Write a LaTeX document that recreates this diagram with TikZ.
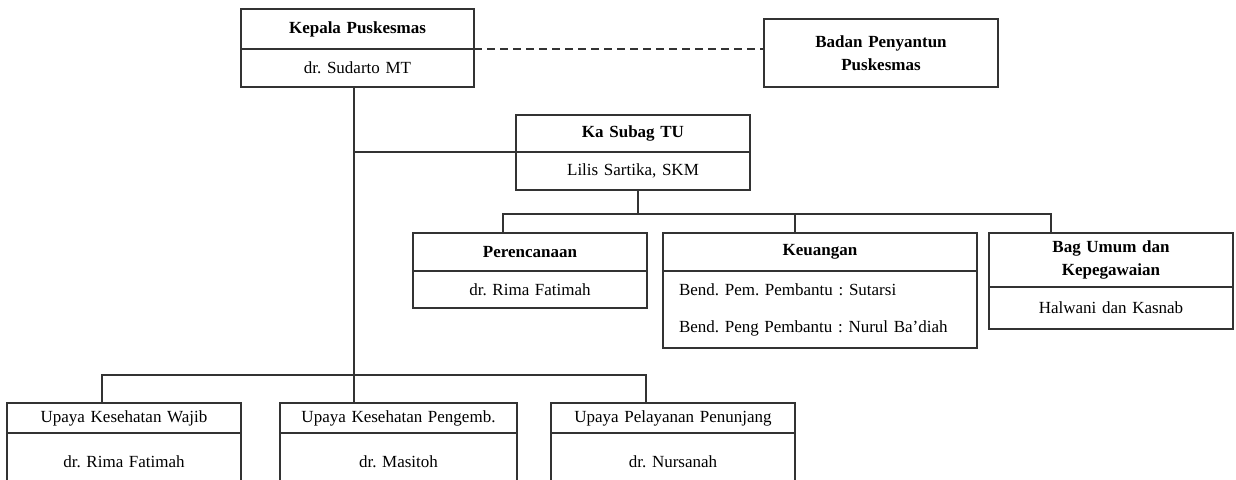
\documentclass[tikz,border=0pt]{standalone}
\usepackage{fontspec}
\setmainfont{Liberation Serif}
\usetikzlibrary{positioning,calc}
\newcommand{\orgfont}{\fontsize{17}{23}\selectfont}
\frenchspacing
\tikzset{
  unitbox/.style={draw=black!80,line width=1.5pt,inner sep=0pt,outer sep=0pt,
    align=center,font=\orgfont\bfseries,anchor=north west},
  namebox/.style={draw=black!80,line width=1.5pt,inner sep=0pt,outer sep=0pt,
    align=center,font=\orgfont},
  orgline/.style={draw=black!80,line width=1.6pt},
  linkline/.style={draw=black!80,line width=1.2pt,dash pattern=on 8pt off 5pt}
}

\begin{document}
\begin{tikzpicture}[x=1pt,y=-1pt]
  \useasboundingbox (0,0) rectangle (1236,479);
  \clip (0,0) rectangle (1236,479);
  % kepala dan badan penyantun
  \node[unitbox,text width=233pt,minimum height=40pt] (kepala) at (241,9) {Kepala Puskesmas};
  \node[namebox,below=0pt of kepala,text width=233pt,minimum height=38pt] (kepalanama) {dr. Sudarto MT};
  \node[unitbox,text width=234pt,minimum height=68pt] (badan) at (764,19) {Badan Penyantun\\Puskesmas};
  % ka subag tu
  \node[unitbox,text width=234pt,minimum height=37pt] (subag) at (516,115) {Ka Subag TU};
  \node[namebox,below=0pt of subag,text width=234pt,minimum height=38pt] (subagnama) {Lilis Sartika, SKM};
  % bagian di bawah subag
  \node[unitbox,text width=234pt,minimum height=38pt] (rencana) at (413,233) {Perencanaan};
  \node[namebox,below=0pt of rencana,text width=234pt,minimum height=37pt] (rencananama) {dr. Rima Fatimah};
  \node[unitbox,text width=314pt,minimum height=38pt] (uang) at (663,233) {Keuangan};
  \node[namebox,below=0pt of uang,text width=282pt,inner xsep=16pt,align=left,minimum height=77pt] (uangnama)
    {Bend. Pem. Pembantu : Sutarsi\\[14pt]Bend. Peng Pembantu : Nurul Ba’diah};
  \node[unitbox,text width=244pt,minimum height=54pt] (umum) at (989,233) {Bag Umum dan\\Kepegawaian};
  \node[namebox,below=0pt of umum,text width=244pt,minimum height=42pt] (umumnama) {Halwani dan Kasnab};
  % upaya kesehatan
  \node[namebox,anchor=north west,text width=234pt,minimum height=30pt] (wajib) at (7,403) {Upaya Kesehatan Wajib};
  \node[namebox,below=0pt of wajib,text width=234pt,minimum height=58pt] (wajibnama) {dr. Rima Fatimah};
  \node[namebox,anchor=north west,text width=237pt,minimum height=30pt] (kembang) at (280,403) {Upaya Kesehatan Pengemb.};
  \node[namebox,below=0pt of kembang,text width=237pt,minimum height=58pt] (kembangnama) {dr. Masitoh};
  \node[namebox,anchor=north west,text width=244pt,minimum height=30pt] (tunjang) at (551,403) {Upaya Pelayanan Penunjang};
  \node[namebox,below=0pt of tunjang,text width=244pt,minimum height=58pt] (tunjangnama) {dr. Nursanah};
  % garis
  \coordinate (trunk) at ([xshift=-3.5pt]kepalanama.south);
  \coordinate (subagtap) at ([xshift=5pt]subagnama.south);
  \coordinate (midbus) at ($(subagtap)+(0,24)$);
  \coordinate (lowbus) at ($(kembang.north)+(0,-28)$);
  \coordinate (rencanatap) at ([xshift=90pt]rencana.north west);
  \coordinate (uangtap) at ([xshift=132pt]uang.north west);
  \coordinate (umumtap) at ([xshift=62pt]umum.north west);
  \coordinate (wajibtap) at ([xshift=95pt]wajib.north west);
  \coordinate (tunjangtap) at ([xshift=95pt]tunjang.north west);
  \draw[linkline] (kepala.south east) -- (kepala.south east -| badan.west);
  \draw[orgline] (trunk) -- (trunk |- kembang.north);
  \draw[orgline] (trunk |- subag.south) -- (subag.south west);
  \draw[orgline] (subagtap) -- (midbus);
  \draw[orgline] (rencanatap) |- (umumtap |- midbus) -- (umumtap);
  \draw[orgline] (uangtap) -- (uangtap |- midbus);
  \draw[orgline] (wajibtap) |- (tunjangtap |- lowbus) -- (tunjangtap);
\end{tikzpicture}
\end{document}
